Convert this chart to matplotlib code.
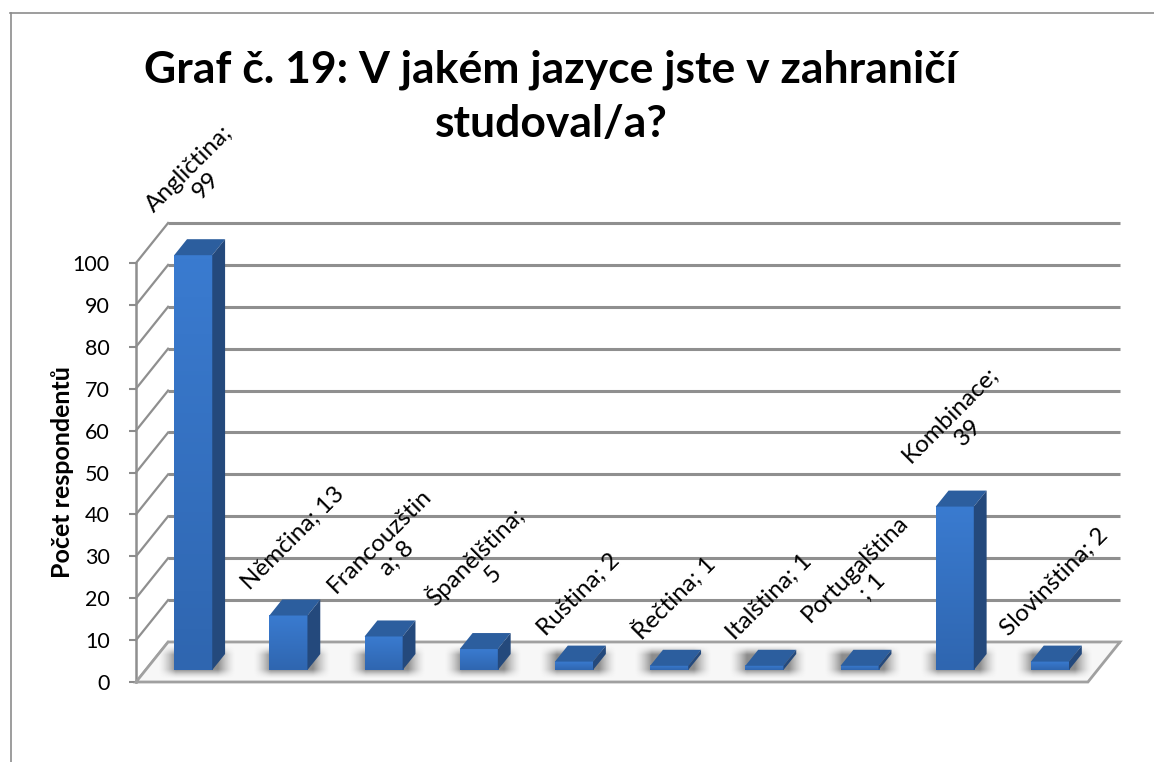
import numpy as np
import matplotlib.pyplot as plt
from matplotlib.patches import Polygon
from matplotlib.lines import Line2D
from matplotlib.colors import LinearSegmentedColormap

# Data ----------------------------------------------------------------------
categories = ['Angličtina', 'Němčina', 'Francouzština', 'Španělština', 'Ruština',
              'Řečtina', 'Italština', 'Portugalština', 'Kombinace', 'Slovinština']
values = [99, 13, 8, 5, 2, 1, 1, 1, 39, 2]
# data labels as Excel wrapped them
labels = ['Angličtina;\n99', 'Němčina; 13', 'Francouzštin\na; 8', 'Španělština;\n5',
          'Ruština; 2', 'Řečtina; 1', 'Italština; 1', 'Portugalština\n; 1',
          'Kombinace;\n39', 'Slovinština; 2']
yticks = list(range(0, 101, 10))
title_lines = ['Graf č. 19: V jakém jazyce jste v zahraničí', 'studoval/a?']
ylabel = 'Počet respondentů'

plt.rcParams['font.family'] = ['Lato', 'DejaVu Sans']

W, H = 1154, 762
fig = plt.figure(figsize=(W/100, H/100), dpi=100)

# fake 3D depth of the chart (in data units)
DX = 0.337
DY = 9.55
f0, f1 = 0.3, 0.7     # bar front/back depth fraction
bw = 0.4              # bar width
n = len(values)

ax = fig.add_axes([136/W, (H-682)/H, 984/W, 459/H])
for s in ax.spines.values():
    s.set_visible(False)
ax.set_xticks([])
ax.set_yticks(yticks)
ax.tick_params(axis='y', length=5, width=1.5, color='#8c8c8c', labelsize=15.5, pad=14)

grid_c = '#8f8f8f'
# back wall grid + side diagonals
for v in yticks:
    ax.plot([-0.5 + DX, n - 0.5 + DX], [v + DY, v + DY], color=grid_c, lw=2.2,
            solid_capstyle='butt', zorder=1, clip_on=False)
    ax.plot([-0.5, -0.5 + DX], [v, v + DY], color=grid_c, lw=1.6, zorder=1, clip_on=False)
ax.plot([-0.5, -0.5], [0, 100], color=grid_c, lw=1.8, zorder=1, clip_on=False)

# floor
floor = Polygon([(-0.5, 0), (n - 0.5, 0), (n - 0.5 + DX, DY), (-0.5 + DX, DY)],
                closed=True, facecolor='#f7f7f7', edgecolor='#a0a0a0', lw=2, zorder=2,
                clip_on=False)
ax.add_patch(floor)

# soft shadows under bars
gx = np.linspace(-1, 1, 80)
gy = np.linspace(-1, 1, 40)
sx = np.clip((1 - np.abs(gx)) / 0.45, 0, 1) ** 1.5
sy = np.clip((1 - np.abs(gy)) / 0.55, 0, 1) ** 1.5
alpha = np.outer(sy, sx) * 0.65
shadow = np.zeros((40, 80, 4))
shadow[..., :3] = 0.33
shadow[..., 3] = alpha

xs = np.arange(n) + f0 * DX
for x in xs:
    ax.imshow(shadow, extent=[x - bw/2 - 0.17, x + bw/2 + 0.24, 0.08 * DY, 0.92 * DY],
              aspect='auto', zorder=3, interpolation='bilinear')

# bars
front_cm = LinearSegmentedColormap.from_list('front', ['#2f66b0', '#3a7bd0'])
bars = ax.bar(xs, values, width=bw, bottom=f0 * DY, color='#3675c5', zorder=4)
ddx = (f1 - f0) * DX
ddy = (f1 - f0) * DY
grad = np.linspace(0, 1, 100).reshape(-1, 1)
for b, v in zip(bars, values):
    x0 = b.get_x()
    x1 = x0 + b.get_width()
    y0 = b.get_y()
    y1 = y0 + b.get_height()
    ax.imshow(grad, extent=[x0, x1, y0, y1], origin='lower', cmap=front_cm,
              aspect='auto', zorder=4.1)
    top = Polygon([(x0, y1), (x1, y1), (x1 + ddx, y1 + ddy), (x0 + ddx, y1 + ddy)],
                  facecolor='#2c5e9e', edgecolor='none', zorder=4.2)
    side = Polygon([(x1, y0), (x1 + ddx, y0 + ddy), (x1 + ddx, y1 + ddy), (x1, y1)],
                   facecolor='#24497c', edgecolor='none', zorder=4.2)
    ax.add_patch(top)
    ax.add_patch(side)

ax.set_xlim(-0.5, n - 0.5 + DX)
ax.set_ylim(0, 100 + DY)

# data labels
for x, v, lab in zip(xs, values, labels):
    ax.text(x + ddx / 2 - 0.02, f1 * DY + v + 1.5, lab, rotation=45, ha='center',
            va='bottom', multialignment='center', fontsize=17.5, zorder=6, clip_on=False)

fig.text(551/W, 1 - 82/H, title_lines[0], ha='center', va='baseline', fontsize=32,
         fontweight='bold')
fig.text(551/W, 1 - 137/H, title_lines[1], ha='center', va='baseline', fontsize=32,
         fontweight='bold')
fig.text(62/W, 1 - 472/H, ylabel, rotation=90, ha='center', va='center',
         fontsize=18, fontweight='bold')

# chart border (cropped on right and bottom)
fig.add_artist(Line2D([10.5/W, 10.5/W], [0, 1 - 13/H], color='#8c8c8c', lw=1.2))
fig.add_artist(Line2D([10/W, 1], [1 - 13/H, 1 - 13/H], color='#8c8c8c', lw=1.2))

fig.savefig('out.png', dpi=100)
